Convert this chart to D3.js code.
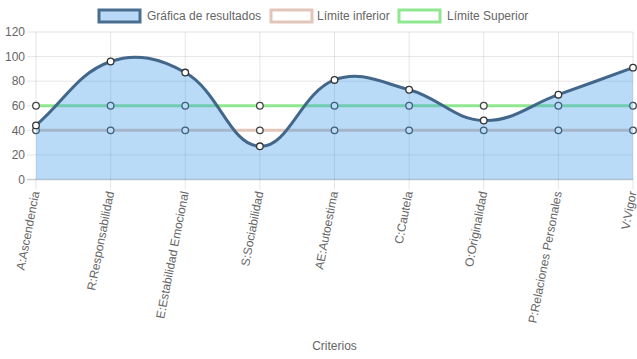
<!DOCTYPE html>
<html><head><meta charset="utf-8">
<script src="https://cdn.jsdelivr.net/npm/d3@7/dist/d3.min.js"></script>
<style>body{margin:0;background:#fff}svg{display:block}text{font-family:"Liberation Sans",Arial,Helvetica,sans-serif}</style>
</head><body>
<svg id="c" width="637" height="359"></svg>
<script>
const categories = ["A:Ascendencia","R:Responsabilidad","E:Estabilidad Emocional","S:Sociabilidad","AE:Autoestima","C:Cautela","O:Originalidad","P:Relaciones Personales","V:Vigor"];
const resultados = [44, 96, 87, 27, 81, 73, 48, 69, 91];
const limiteInferior = [40, 40, 40, 40, 40, 40, 40, 40, 40];
const limiteSuperior = [60, 60, 60, 60, 60, 60, 60, 60, 60];
const yTicks = [0, 20, 40, 60, 80, 100, 120];
const seriesNames = ["Gráfica de resultados", "Límite inferior", "Límite Superior"];
const axisTitle = "Criterios";

const svg = d3.select("#c");
const pL = 36, pR = 633, pT = 32, pB = 179.5;
const x = d3.scalePoint().domain(categories).range([pL, pR]);
const y = d3.scaleLinear().domain([0, 120]).range([pB, pT]);

// gridlines
const g = svg.append("g");
yTicks.forEach(t => {
  g.append("line").attr("x1", pL - 9).attr("x2", pR).attr("y1", y(t)).attr("y2", y(t))
   .attr("stroke", t === 0 ? "rgba(0,0,0,0.2)" : "rgba(0,0,0,0.1)").attr("stroke-width", t===0?1.5:1);
  g.append("text").attr("x", pL - 11).attr("y", y(t)).attr("dy", "0.35em").attr("text-anchor", "end")
   .attr("font-size", 12).attr("fill", "#666").text(t);
});
categories.forEach(c => {
  g.append("line").attr("x1", x(c)).attr("x2", x(c)).attr("y1", pT).attr("y2", pB + 10)
   .attr("stroke", "rgba(0,0,0,0.1)");
  g.append("text").attr("transform", `translate(${x(c)},${pB + 12}) rotate(-79)`)
   .attr("text-anchor", "end").attr("dy", "0.3em").attr("font-size", 12).attr("fill", "#666").text(c);
});
svg.append("text").attr("x", (pL + pR) / 2).attr("y", 350).attr("text-anchor", "middle")
  .attr("font-size", 12).attr("fill", "#666").text(axisTitle);

// Chart.js-like spline
function splinePath(vals, closeToZero) {
  const pts = vals.map((v, i) => ({x: x(categories[i]), y: y(v)}));
  const t = 0.4;
  const cps = pts.map((p, i) => {
    const pr = pts[Math.max(0, i - 1)], nx = pts[Math.min(pts.length - 1, i + 1)];
    const d01 = Math.hypot(p.x - pr.x, p.y - pr.y), d12 = Math.hypot(nx.x - p.x, nx.y - p.y);
    let s01 = d01 / (d01 + d12), s12 = d12 / (d01 + d12);
    if (isNaN(s01)) s01 = 0; if (isNaN(s12)) s12 = 0;
    const fa = t * s01, fb = t * s12;
    const clampY = v => Math.max(pT, Math.min(pB, v));
    const clampX = v => Math.max(pL, Math.min(pR, v));
    return {
      px: clampX(p.x - fa * (nx.x - pr.x)), py: clampY(p.y - fa * (nx.y - pr.y)),
      nx: clampX(p.x + fb * (nx.x - pr.x)), ny: clampY(p.y + fb * (nx.y - pr.y))
    };
  });
  const path = d3.path();
  path.moveTo(pts[0].x, pts[0].y);
  for (let i = 1; i < pts.length; i++) {
    path.bezierCurveTo(cps[i-1].nx, cps[i-1].ny, cps[i].px, cps[i].py, pts[i].x, pts[i].y);
  }
  if (closeToZero) {
    path.lineTo(pts[pts.length-1].x, y(0));
    path.lineTo(pts[0].x, y(0));
    path.closePath();
  }
  return path.toString();
}

function drawPoints(vals, stroke) {
  svg.append("g").selectAll("circle").data(vals).join("circle")
    .attr("cx", (d, i) => x(categories[i])).attr("cy", d => y(d)).attr("r", 3.3)
    .attr("fill", "#fff").attr("stroke", stroke).attr("stroke-width", 1.3);
}

// Límite Superior
svg.append("path").attr("d", splinePath(limiteSuperior)).attr("fill", "none")
  .attr("stroke", "#8fe88f").attr("stroke-width", 3);
drawPoints(limiteSuperior, "#444");
// Límite inferior
svg.append("path").attr("d", splinePath(limiteInferior)).attr("fill", "none")
  .attr("stroke", "#e2c6b9").attr("stroke-width", 3);
drawPoints(limiteInferior, "#444");
// Resultados
svg.append("path").attr("d", splinePath(resultados, true)).attr("fill", "rgba(54,152,235,0.35)");
svg.append("path").attr("d", splinePath(resultados)).attr("fill", "none")
  .attr("stroke", "#43678a").attr("stroke-width", 3);
drawPoints(resultados, "#333");

// legend
const legend = [
  {name: seriesNames[0], fill: "#b9daf6", stroke: "#4a6e8f", bx: 99, tx: 147},
  {name: seriesNames[1], fill: "#fff", stroke: "#e2c6b9", bx: 271, tx: 317},
  {name: seriesNames[2], fill: "#fff", stroke: "#8fe88f", bx: 399, tx: 447}
];
legend.forEach(l => {
  svg.append("rect").attr("x", l.bx).attr("y", 10).attr("width", 41).attr("height", 12)
    .attr("fill", l.fill).attr("stroke", l.stroke).attr("stroke-width", 3);
  svg.append("text").attr("x", l.tx).attr("y", 16).attr("dy", "0.35em").attr("font-size", 12)
    .attr("fill", "#666").text(l.name);
});
</script>
</body></html>
